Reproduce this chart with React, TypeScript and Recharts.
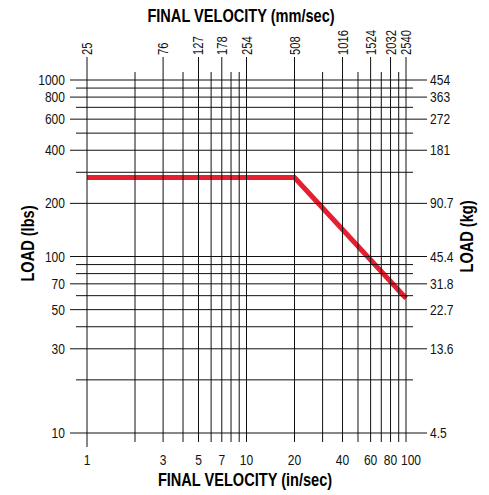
import { LineChart, Line, XAxis, YAxis } from 'recharts';

// grid lines and labelled ticks, in/sec along x, lbs along y
const velocityGrid = [1, 2, 3, 4, 5, 6, 7, 8, 9, 10, 20, 30, 40, 50, 60, 70, 80, 90, 100];
const velocityLabels = [1, 3, 5, 7, 10, 20, 40, 60, 80, 100];
const mmLabels = ['25', '76', '127', '178', '254', '508', '1016', '1524', '2032', '2540'];
const loadGrid = [10, 20, 30, 40, 50, 60, 70, 80, 90, 100, 200, 300, 400, 500, 600, 700, 800, 900, 1000];
const loadLabels = [10, 30, 50, 70, 100, 200, 400, 600, 800, 1000];
const kgLabels = ['4.5', '13.6', '22.7', '31.8', '45.4', '90.7', '181', '272', '363', '454'];

// rated load curve
const velocities = [1, 20, 100];
const loads = [280, 280, 58];

const data = velocities.map((v, i) => ({ velocity: v, load: loads[i] }));

const W = 489;
const H = 495;
const LEFT_W = 87;
const RIGHT_W = 83;
const TOP_H = 80;
const BOTTOM_H = 62;
const PLOT_LEFT = LEFT_W;
const PLOT_RIGHT = W - RIGHT_W;
const PLOT_TOP = TOP_H;
const PLOT_BOTTOM = H - BOTTOM_H;

// no condensed face installed, so squeeze Liberation Sans horizontally
const FONT = "'Liberation Sans', Arial, sans-serif";
const INK = '#111';

function Narrow({ x, y, anchor, size = 14, squeeze = 0.86, rot = 0, bold = false, children }: any) {
  return (
    <text
      transform={`translate(${x},${y}) rotate(${rot}) scale(${squeeze},1)`}
      textAnchor={anchor}
      fontFamily={FONT}
      fontSize={size}
      fontWeight={bold ? 700 : 400}
      fill={bold ? '#000' : INK}
    >
      {children}
    </text>
  );
}

function LoadTick(props: any) {
  const { y, payload } = props;
  const i = loadLabels.indexOf(payload.value);
  const labeled = i >= 0;
  return (
    <g>
      <line
        x1={PLOT_LEFT - (labeled ? 17 : 11)}
        x2={PLOT_RIGHT + (labeled ? 21 : 7)}
        y1={y}
        y2={y}
        stroke={INK}
        strokeWidth={1}
      />
      {labeled && (
        <Narrow x={65} y={y + 5} anchor="end">
          {payload.value}
        </Narrow>
      )}
      {labeled && (
        <Narrow x={PLOT_RIGHT + 24} y={y + 5} anchor="start">
          {kgLabels[i]}
        </Narrow>
      )}
    </g>
  );
}

function VelocityTick(props: any) {
  const { x, payload } = props;
  const i = velocityLabels.indexOf(payload.value);
  const labeled = i >= 0;
  const last = i === velocityLabels.length - 1;
  return (
    <g>
      <line
        x1={x}
        x2={x}
        y1={PLOT_TOP - (labeled ? 23 : 8)}
        y2={PLOT_BOTTOM + (payload.value === 1 ? 14 : 9)}
        stroke={INK}
        strokeWidth={1}
      />
      {labeled && (
        <Narrow x={last ? x + 5 : x} y={PLOT_BOTTOM + 32} anchor="middle">
          {payload.value}
        </Narrow>
      )}
      {labeled && (
        <Narrow x={x + 5} y={PLOT_TOP - 25} anchor="start" rot={-90} squeeze={0.8}>
          {mmLabels[i]}
        </Narrow>
      )}
    </g>
  );
}

function Title({ cx, cy, turn = 0, text }: any) {
  return (
    <Narrow x={cx} y={cy} anchor="middle" size={18} squeeze={0.81} rot={turn} bold>
      <tspan dy="0.36em">{text}</tspan>
    </Narrow>
  );
}

export default function App() {
  return (
    <div style={{ position: 'absolute', left: 0, top: 0, background: '#fff' }}>
      <LineChart width={W} height={H} data={data} margin={{ top: 0, right: 0, bottom: 0, left: 0 }}>
        <XAxis
          xAxisId="in"
          dataKey="velocity"
          type="number"
          scale="log"
          domain={[1, 100]}
          ticks={velocityGrid}
          interval={0}
          height={BOTTOM_H}
          axisLine={false}
          tickLine={false}
          tick={<VelocityTick />}
          label={<Title cx={245} cy={480} text="FINAL VELOCITY (in/sec)" />}
        />
        <XAxis
          xAxisId="mm"
          orientation="top"
          type="number"
          scale="log"
          domain={[1, 100]}
          height={TOP_H}
          axisLine={false}
          tickLine={false}
          tick={false}
          label={<Title cx={241} cy={16} text="FINAL VELOCITY (mm/sec)" />}
        />
        <YAxis
          yAxisId="lbs"
          type="number"
          scale="log"
          domain={[10, 1000]}
          ticks={loadGrid}
          interval={0}
          width={LEFT_W}
          axisLine={false}
          tickLine={false}
          tick={<LoadTick />}
          label={<Title cx={28} cy={243.5} turn={-90} text="LOAD (lbs)" />}
        />
        <YAxis
          yAxisId="kg"
          orientation="right"
          type="number"
          scale="log"
          domain={[10, 1000]}
          width={RIGHT_W}
          axisLine={false}
          tickLine={false}
          tick={false}
          label={<Title cx={467} cy={236.5} turn={-90} text="LOAD (kg)" />}
        />
        <Line
          xAxisId="in"
          yAxisId="lbs"
          type="linear"
          dataKey="load"
          stroke="#e61e30"
          strokeWidth={5}
          dot={false}
          activeDot={false}
          isAnimationActive={false}
        />
      </LineChart>
    </div>
  );
}
